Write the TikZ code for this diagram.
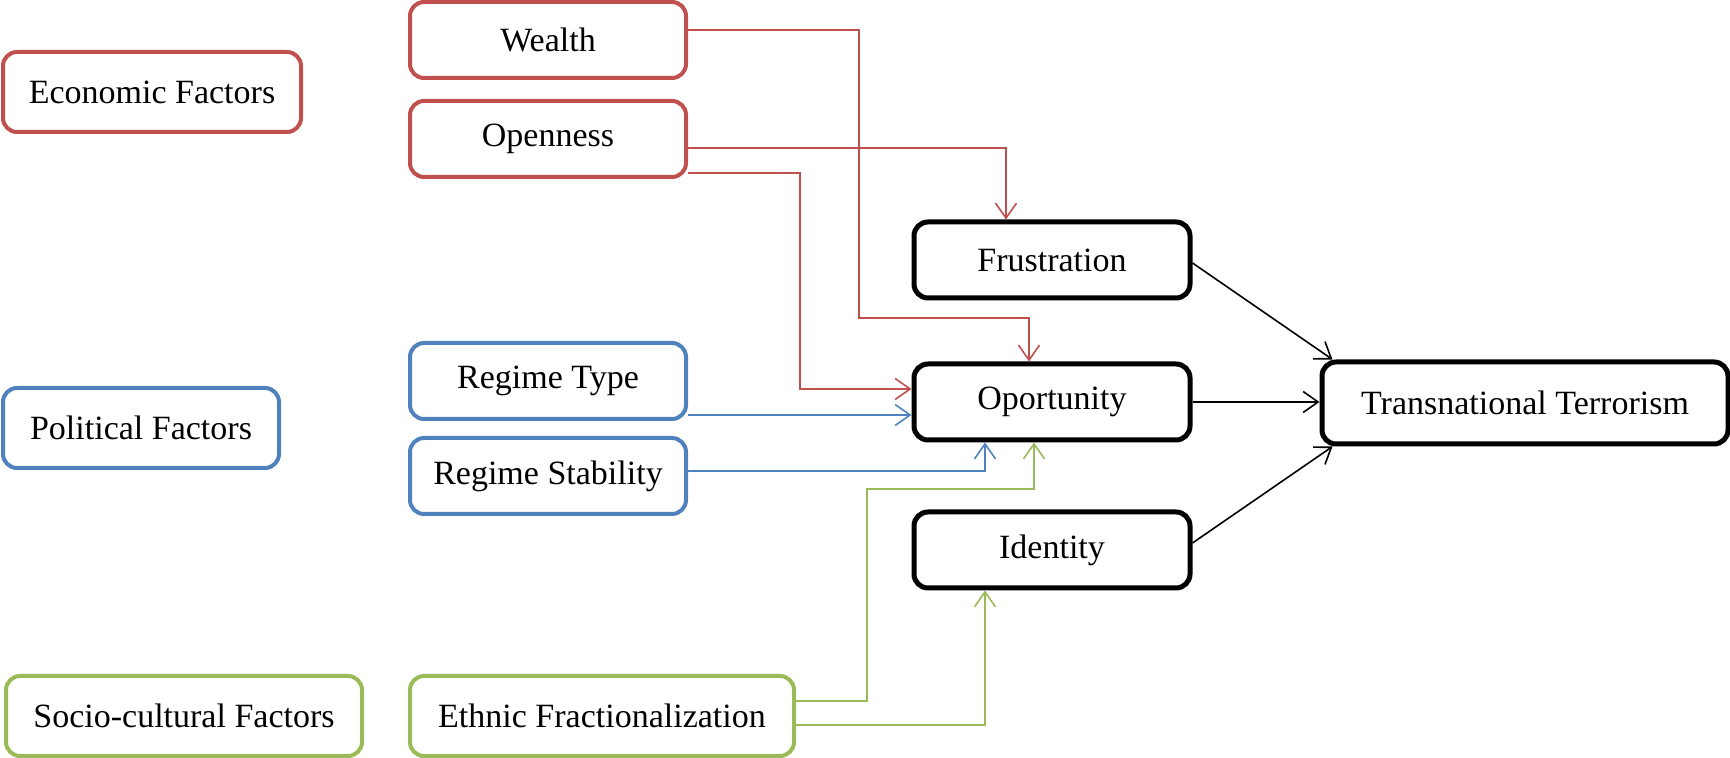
\documentclass[tikz,border=0pt]{standalone}
\usepackage{fontspec}
\setmainfont{Liberation Serif}
\usetikzlibrary{arrows.meta,calc}
\definecolor{cred}{HTML}{C0504D}
\definecolor{cblue}{HTML}{4F81BD}
\definecolor{cgreen}{HTML}{9BBB59}
\tikzset{
  box/.style={draw, line width=2pt, rounded corners=7pt, fill=white, inner sep=0pt,
    minimum width=138pt, minimum height=38pt, font=\fontsize{17}{20}\selectfont},
  redbox/.style={box, draw=cred},
  bluebox/.style={box, draw=cblue},
  greenbox/.style={box, draw=cgreen},
  blackbox/.style={box, draw=black, line width=2.5pt},
  conn/.style={line width=0.8pt, -{Straight Barb[length=7.5pt,width=10.5pt,line width=0.8pt]}},
  rconn/.style={conn, draw=cred},
  bconn/.style={conn, draw=cblue},
  gconn/.style={conn, draw=cgreen},
  kconn/.style={conn, draw=black},
}
\begin{document}
\begin{tikzpicture}[x=0.5pt,y=-0.5pt]
\useasboundingbox (0,0) rectangle (1730,758);
% left category boxes
\node[redbox, minimum width=149pt, minimum height=40pt] (econ) at (152,92) {Economic Factors};
\node[bluebox, minimum width=138pt, minimum height=40pt] (pol) at (141,428) {Political Factors};
\node[greenbox, minimum width=178pt, minimum height=40pt] (soc) at (184,716) {Socio-cultural Factors};
% factor boxes
\node[redbox] (wealth) at (548,40) {Wealth};
\node[redbox] (open) at (548,139) {Openness};
\node[bluebox] (rtype) at (548,381) {Regime Type};
\node[bluebox] (rstab) at (548,476) {Regime Stability};
\node[greenbox, minimum width=192pt, minimum height=40pt] (ethnic) at (602,716) {Ethnic Fractionalization};
% mediators
\node[blackbox] (frus) at (1052,260) {Frustration};
\node[blackbox] (opp) at (1052,402) {Oportunity};
\node[blackbox] (ident) at (1052,550) {Identity};
\node[blackbox, minimum width=203pt, minimum height=41pt] (trans) at (1525,403) {Transnational Terrorism};
% red connectors
\draw[rconn] ($(wealth.east)+(0,-10)$) -| (859,318) -| ($(opp.north)+(-23,0)$);
\draw[rconn] ($(open.east)+(0,9)$) -| ($(frus.north)+(-46,0)$);
\draw[rconn] ($(open.east)+(0,34)$) -| (800,389) -- ($(opp.west)+(0,-13)$);
% blue connectors
\draw[bconn] ($(rtype.east)+(0,34)$) -- ($(opp.west)+(0,13)$);
\draw[bconn] ($(rstab.east)+(0,-5)$) -| ($(opp.south)+(-67,0)$);
% green connectors
\draw[gconn] ($(ethnic.east)+(0,-15)$) -| (867,489) -| ($(opp.south)+(-18,0)$);
\draw[gconn] ($(ethnic.east)+(0,9)$) -| ($(ident.south)+(-67,0)$);
% black connectors
\draw[kconn] ($(frus.east)+(0,3)$) -- ($(trans.north west)+(13,0)$);
\draw[kconn] (opp.east) -- (opp.east -| trans.west);
\draw[kconn] ($(ident.east)+(0,-7)$) -- ($(trans.south west)+(13,0)$);
\end{tikzpicture}
\end{document}
